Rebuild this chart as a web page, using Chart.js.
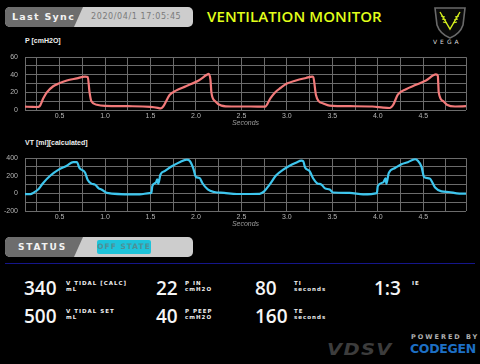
<!DOCTYPE html>
<html>
<head>
<meta charset="utf-8">
<script src="https://cdn.jsdelivr.net/npm/chart.js@4.4.0/dist/chart.umd.min.js"></script>
<style>
  html, body { margin: 0; padding: 0; background: #000; }
  body { width: 480px; height: 364px; position: relative; overflow: hidden; font-family: "Open Sans", sans-serif; color: #fff; }
  .abs { position: absolute; }
  .pill { position: absolute; left: 5px; height: 20px; width: 188px; background: #cdcdcd; border-radius: 5px; overflow: hidden; }
  .pill .dark { position: absolute; left: 0; top: 0; height: 100%; width: 80px; background: #6d6d6d; clip-path: polygon(0 0, 78px 0, 69px 100%, 0 100%); }
  .pill .lbl { position: absolute; top: 0; line-height: 20px; font-family: "DejaVu Sans", sans-serif; font-weight: bold; font-size: 9.5px; letter-spacing: 1.3px; color: #f2f2f2; }
  .chartTitle { position: absolute; left: 25px; font-family: "Liberation Sans", sans-serif; font-weight: bold; font-size: 7px; color: #eee; }
  .cv { position: absolute; left: 0; width: 480px; height: 84px; }
  .big { position: absolute; font-family: "Open Sans", sans-serif; font-weight: 600; font-size: 19px; line-height: 19px; color: #f5f5f5; }
  .sm { position: absolute; font-family: "DejaVu Sans", sans-serif; font-weight: bold; font-size: 5.5px; line-height: 6px; letter-spacing: 1px; color: #eee; }
</style>
</head>
<body>
  <div class="pill" style="top:7px;">
    <div class="dark"></div>
    <div class="lbl" style="left:7px;">Last Sync</div>
    <div class="lbl" style="left:86px; font-weight:normal; font-size:8px; letter-spacing:0.6px; color:#7a7a7a;">2020/04/1 17:05:45</div>
  </div>
  <div class="abs" style="left:207px; top:6px; font-size:15px; font-weight:600; color:#e2ff1a; letter-spacing:0.1px;">VENTILATION MONITOR</div>

  <svg class="abs" style="left:432px; top:5px;" width="36" height="34" viewBox="0 0 36 34">
    <path d="M3 3 L33 3 L31 20 Q28 29 18 33 Q8 29 5 20 Z" fill="#0a0a0a" stroke="#6a6a6a" stroke-width="1.6"/>
    <path d="M8 7 L18 24 L28 7" fill="none" stroke="#d6f01e" stroke-width="1.4"/>
    <path d="M9 11 L13 12 M10 14 L14 15 M11 17 L15 18 M27 11 L23 12 M26 14 L22 15 M25 17 L21 18" stroke="#d6f01e" stroke-width="1.2"/>
  </svg>
  <div class="abs" style="left:433px; top:38px; font-family:'DejaVu Sans',sans-serif; font-size:6px; letter-spacing:3px; color:#ddd;">VEGA</div>

  <div class="chartTitle" style="top:37px;">P [cmH2O]</div>
  <canvas id="pChart" class="cv" style="top:46px;" width="480" height="84"></canvas>
  <div class="chartTitle" style="top:139px;">VT [ml][calculated]</div>
  <canvas id="vtChart" class="cv" style="top:147px;" width="480" height="84"></canvas>

  <div class="pill" style="top:237px;">
    <div class="dark"></div>
    <div class="lbl" style="left:13px; font-size:9px; letter-spacing:1.8px;">STATUS</div>
    <div class="abs" style="left:92px; top:3px; width:54px; height:14px; background:#1ec3da; border-radius:2px; font-family:'DejaVu Sans',sans-serif; font-weight:bold; font-size:7.5px; letter-spacing:1px; line-height:14px; text-align:center; color:#4f8f96;">OFF STATE</div>
  </div>
  <div class="abs" style="left:5px; top:263px; width:470px; height:1px; background:#15168a;"></div>

  <div class="big" style="left:24px; top:279px;">340</div>
  <div class="sm" style="left:66px; top:280px;">V TIDAL [CALC]<br>mL</div>
  <div class="big" style="left:156px; top:279px;">22</div>
  <div class="sm" style="left:185px; top:280px;">P IN<br>cmH2O</div>
  <div class="big" style="left:255px; top:279px;">80</div>
  <div class="sm" style="left:294px; top:280px;">TI<br>seconds</div>
  <div class="big" style="left:374px; top:279px;">1:3</div>
  <div class="sm" style="left:412px; top:280px;">IE</div>

  <div class="big" style="left:24px; top:307px;">500</div>
  <div class="sm" style="left:66px; top:308px;">V TIDAL SET<br>mL</div>
  <div class="big" style="left:156px; top:307px;">40</div>
  <div class="sm" style="left:185px; top:308px;">P PEEP<br>cmH2O</div>
  <div class="big" style="left:255px; top:307px;">160</div>
  <div class="sm" style="left:294px; top:308px;">TE<br>seconds</div>

  <div class="abs" style="left:327px; top:341px; font-family:'DejaVu Sans',sans-serif; font-weight:bold; font-style:italic; font-size:15px; letter-spacing:1px; color:#3c3c3c; transform:scaleX(1.3); transform-origin:left;">VDSV</div>
  <div class="abs" style="left:411px; top:333px; font-family:'DejaVu Sans',sans-serif; font-weight:bold; font-size:6.5px; letter-spacing:2px; color:#b0b0b0;">POWERED BY</div>
  <div class="abs" style="left:410px; top:341px; font-family:'DejaVu Sans',sans-serif; font-weight:bold; font-size:12.5px; letter-spacing:-0.3px; color:#1d6fc4;">CODEGEN</div>

<script>
// pressure trace, time in seconds
const pTime = [0.12, 0.2, 0.25, 0.28, 0.32, 0.36, 0.43, 0.49, 0.58, 0.69, 0.78, 0.81, 0.83, 0.85, 0.91, 1.0, 1.25, 1.5, 1.58, 1.61,
  1.64, 1.71, 1.78, 1.89, 2.03, 2.12, 2.14, 2.16, 2.17, 2.21, 2.28, 2.39, 2.6, 2.76, 2.82, 2.87, 2.93, 3.0, 3.1, 3.21,
  3.28, 3.29, 3.32, 3.35, 3.4, 3.47, 3.7, 3.94, 4.06, 4.13, 4.17, 4.22, 4.31, 4.42, 4.53, 4.64, 4.66, 4.665, 4.67, 4.72,
  4.76, 4.85, 4.97];
const pValues = [3.8, 3.5, 3.4, 4.2, 13, 20, 27, 30, 33.5, 36, 38, 37.5, 20, 10, 6, 4.7, 4.3, 3.6, 2.5, 1.8,
  4, 17, 22, 27, 33.6, 40, 41, 34, 20, 10, 5, 4, 4, 3.8, 13.5, 20, 25, 30, 33.6, 36.4,
  38, 37.5, 17, 10, 7.5, 5, 4.3, 4, 2.7, 2.3, 6, 17.5, 23.6, 28.6, 33.6, 40.4, 39, 30, 20, 10,
  6, 4, 4.3];

// tidal volume trace
const vtTime = [0.12, 0.18, 0.21, 0.27, 0.32, 0.4, 0.49, 0.58, 0.65, 0.69, 0.72, 0.78, 0.81, 0.85, 0.89, 0.93, 0.96, 1.02, 1.31, 1.38,
  1.49, 1.51, 1.52, 1.56, 1.575, 1.585, 1.61, 1.66, 1.73, 1.82, 1.9, 1.93, 1.97, 2.0, 2.04, 2.07, 2.13, 2.2, 2.31, 2.45,
  2.7, 2.75, 2.81, 2.88, 2.96, 3.03, 3.1, 3.16, 3.18, 3.2, 3.25, 3.29, 3.33, 3.38, 3.42, 3.47, 3.51, 3.69, 3.84, 3.99,
  4.0, 4.06, 4.085, 4.095, 4.12, 4.19, 4.26, 4.33, 4.41, 4.44, 4.48, 4.51, 4.57, 4.63, 4.7, 4.78, 4.87, 4.97];
const vtValues = [-8, -8, 6, 50, 118, 203, 270, 315, 355, 355, 288, 237, 152, 111, 100, 57, 45, 6, -11, -11,
  3, 5, 84, 125, 160, 110, 215, 255, 305, 355, 383, 372, 288, 186, 176, 118, 45, 16, 6, -7,
  -5, 23, 100, 203, 270, 315, 349, 372, 365, 294, 254, 169, 118, 100, 57, 45, 10, 6, -11, 3,
  84, 125, 170, 110, 230, 288, 332, 355, 389, 372, 305, 186, 169, 68, 23, 16, 0, -3];

const xRange = [0.12, 4.97];
const xLabelEvery = 0.5;
const pRange = [0, 60];
const pLabelEvery = 20;
const vtRange = [-200, 400];
const vtLabelEvery = 200;

const gridColor = '#6c6c6c';
const tickFont = { family: 'Liberation Sans', size: 7 };

// right-hand edge of the plot box
const frame = {
  id: 'frame',
  afterDraw(chart) {
    const a = chart.chartArea;
    const ctx = chart.ctx;
    ctx.save();
    ctx.strokeStyle = gridColor;
    ctx.lineWidth = 1;
    ctx.beginPath();
    ctx.moveTo(Math.round(a.right) + 0.5, a.top);
    ctx.lineTo(Math.round(a.right) + 0.5, a.bottom);
    ctx.stroke();
    ctx.restore();
  }
};

function onMultiple(v, step) {
  const r = v / step;
  return Math.abs(r - Math.round(r)) < 1e-6;
}

function makeChart(id, xs, ys, color, yRange, yStep, yLabelEvery) {
  return new Chart(document.getElementById(id).getContext('2d'), {
    type: 'line',
    data: {
      datasets: [{
        data: xs.map((x, i) => ({ x: x, y: ys[i] })),
        borderColor: color,
        borderWidth: 2.2,
        pointRadius: 0,
        cubicInterpolationMode: 'monotone',
        fill: false
      }]
    },
    options: {
      responsive: false,
      animation: false,
      events: [],
      layout: { padding: { top: 5, right: 14, left: 0, bottom: 0 } },
      plugins: { legend: { display: false }, tooltip: { enabled: false } },
      scales: {
        x: {
          type: 'linear',
          min: xRange[0],
          max: xRange[1],
          afterFit(s) { s.height = 20; },
          grid: { color: gridColor, drawTicks: false },
          border: { display: false },
          ticks: {
            stepSize: 0.25,
            includeBounds: false,
            autoSkip: false,
            maxRotation: 0,
            padding: 2,
            color: '#b5b5b5',
            font: tickFont,
            callback: v => onMultiple(v, xLabelEvery) ? v.toFixed(1) : ''
          },
          title: {
            display: true,
            text: 'Seconds',
            color: '#9a9a9a',
            font: { family: 'Liberation Sans', size: 7, style: 'italic' },
            padding: { top: 0, bottom: 3 }
          }
        },
        y: {
          min: yRange[0],
          max: yRange[1],
          afterFit(s) { s.width = 25; },
          grid: { color: gridColor, drawTicks: false },
          border: { color: gridColor },
          ticks: {
            stepSize: yStep,
            autoSkip: false,
            padding: 7,
            color: '#b5b5b5',
            font: tickFont,
            callback: v => onMultiple(v, yLabelEvery) ? String(v) : ''
          }
        }
      }
    },
    plugins: [frame]
  });
}

makeChart('pChart', pTime, pValues, '#f27a7a', pRange, 10, pLabelEvery);
makeChart('vtChart', vtTime, vtValues, '#3ec6ee', vtRange, 100, vtLabelEvery);
</script>
</body>
</html>
